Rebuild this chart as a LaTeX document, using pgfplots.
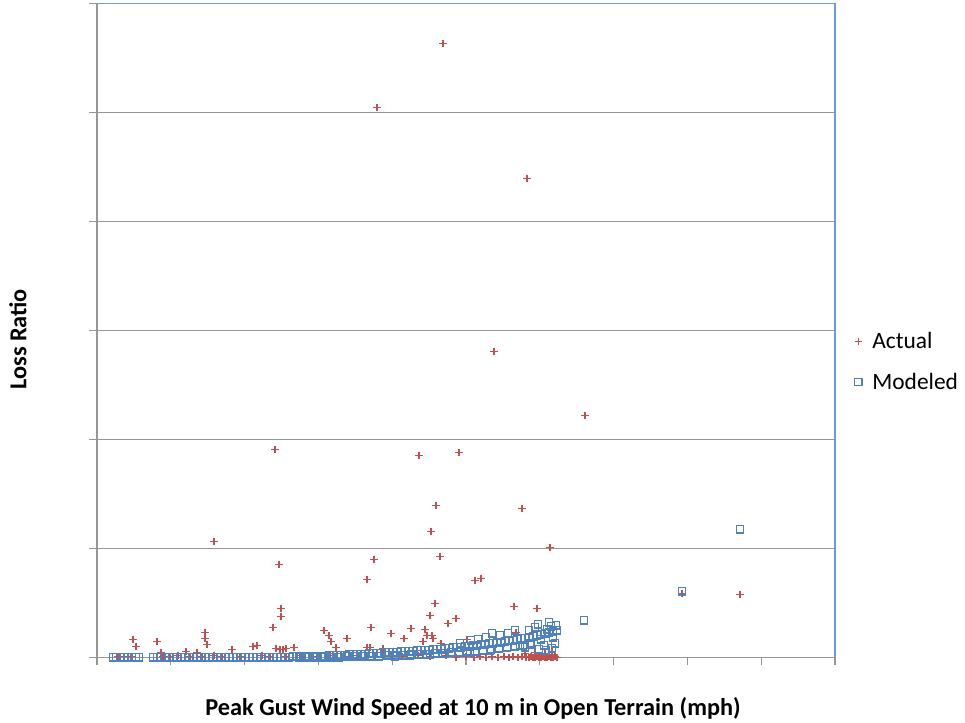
\documentclass[border=0pt]{standalone}
\usepackage{fontspec}
\setmainfont{Carlito}
\usepackage{pgfplots}
\pgfplotsset{compat=1.18}
\definecolor{actred}{RGB}{192,80,77}
\definecolor{modblue}{RGB}{79,129,189}
\definecolor{gridgray}{RGB}{150,150,150}
\definecolor{borderblue}{RGB}{110,155,210}
\begin{document}
\begin{tikzpicture}
\begin{axis}[
  at={(0,0)}, anchor=south west,
  scale only axis, width=738bp, height=654bp,
  xmin=97, xmax=835, ymin=0, ymax=654,
  xtick={97,170.8,244.6,318.4,392.2,466,539.8,613.6,687.4,761.2,835},
  ytick={0,109,218,327,436,545,654},
  xticklabels={}, yticklabels={},
  axis x line*=bottom, axis y line*=left,
  axis line style={draw=gridgray, line width=1.3bp, -},
  tick align=outside, major tick length=8bp,
  tick style={draw=gridgray, line width=1.3bp},
  ymajorgrids, grid style={draw=gridgray, line width=1.3bp},
  clip=false,
  xlabel={\bfseries Peak Gust Wind Speed at 10 m in Open Terrain (mph)},
  ylabel={\bfseries Loss Ratio},
  every axis x label/.style={at={(axis description cs:0.5,0)}, anchor=center, yshift=-51bp, xshift=7bp, font=\fontsize{24.4}{28}\selectfont},
  every axis y label/.style={at={(axis description cs:0,0.5)}, anchor=center, rotate=90, yshift=79bp, xshift=-9bp, font=\fontsize{24.4}{28}\selectfont},
  legend style={at={(axis description cs:1.026,0.452)}, anchor=west, draw=none, fill=none,
    font=\fontsize{23.5}{27}\selectfont, row sep=19bp, inner xsep=0pt},
  legend cell align=left,
  legend image code/.code={\draw[#1] plot coordinates {(0bp,0bp)}; \path[draw=none,fill=none] (-4bp,0bp) rectangle (12bp,0bp);},
]
\addplot[only marks, mark=+, mark size=3.7bp, draw=actred, line width=1.1bp] coordinates {
(443,614) (377,550) (527,479) (494,306) (585,242) (275,208) (419,202) (459,205)
(436,152) (522,149) (214,116) (431,126) (550,110) (440,101) (374,98) (279,93)
(367,78) (475,77) (481,79) (740,63) (682,64) (435,54) (514,51) (537,49)
(281,49) (281,41) (430,42) (456,39) (448,34) (516,25)
(133,18) (136,11) (157,16) (161,5) (205,25) (205,19) (207,13) (186,6) (197,5)
(232,8) (253,11) (257,12) (273,30) (276,9) (280,8) (283,8) (286,9) (294,10) (324,27) (329,22)
(331,16) (336,10) (347,19) (367,10) (371,30) (370,10) (383,9) (391,24) (404,19)
(411,29) (425,28) (427,22) (432,22) (433,19) (423,16) (441,14) (467,18)
(118,1) (124,1) (131,1) (163,1) (170,1) (178,2) (190,1) (202,1) (214,2) (222,1)
(240,1) (262,2) (270,1) (286,1) (300,2) (318,1) (330,2) (345,1) (358,2) (374,1)
(392,2) (402,1) (418,2) (430,1) (446,2) (456,0) (466,1) (474,0) (480,1) (486,0)
(492,1) (498,0) (504,1) (509,0) (513,1) (518,0) (522,1) (526,0) (529,0) (531,1) (533,0)
(535,0) (537,1) (539,0) (541,0) (543,1) (545,0) (547,0) (549,1) (551,0) (553,0) (555,1) (557,0)
(525,4) (535,5) (545,4) (552,6)
};
\addlegendentry{Actual}
\addplot[only marks, mark=square, mark size=3.6bp, draw=modblue, line width=1.4bp] coordinates {
(113,0) (116,0) (120,0) (124,0) (128,0) (132,0) (136,0) (139,0)
(153,0) (157,0) (161,0) (165,0) (169,0) (173,0) (177,0) (181,0) (185,0) (189,0)
(193,0) (197,0) (201,0) (205,0) (209,0) (213,0) (217,0) (221,0) (225,0) (229,0)
(233,0) (237,0) (241,0) (245,0) (249,0) (253,0) (257,0) (261,0) (265,0) (269,0)
(273,0) (277,0) (281,0) (285,0) (289,0) (293,1) (297,1) (301,1) (305,1) (309,1)
(313,1) (317,1) (321,1) (325,1) (329,2) (333,2) (337,2) (341,2) (345,2) (349,3)
(353,3) (357,3) (361,3) (365,3) (369,4) (373,4) (377,4) (381,4) (385,5) (389,5)
(393,5) (397,5) (401,6) (405,6) (409,6) (413,6) (417,7) (421,7) (425,7) (429,7)
(433,8) (437,8) (441,8) (445,9) (449,9) (453,10) (457,10) (461,10) (465,11) (469,11)
(473,12) (477,12) (481,13) (485,13) (489,14) (493,14) (497,15) (501,15) (505,16)
(509,17) (513,17) (517,18) (521,19) (525,19) (529,20) (533,21) (537,22) (541,23)
(545,24) (549,25) (553,26) (557,27)
(299,0) (307,0) (315,0) (323,0) (331,0) (339,0) (347,1) (355,1) (363,1) (371,1)
(379,1) (387,2) (395,2) (403,2) (411,3) (419,3) (427,3) (435,4) (443,4) (451,5)
(459,5) (467,6) (475,6) (483,7) (491,8) (499,9) (507,10) (515,11) (523,12) (531,13)
(486,20) (492,24) (500,22) (508,24) (515,27) (520,12) (525,10) (530,14) (535,30)
(538,33) (541,18) (544,12) (547,28) (549,35) (551,31) (553,20) (555,14) (556,32)
(539,8) (546,7) (552,9) (529,27) (471,17) (478,18) (460,14) (445,4) (430,3)
(410,2) (395,1) (470,5) (490,7)
(584,37) (682,66) (740,128)
};
\addlegendentry{Modeled}
\draw[borderblue, line width=1.3bp] (rel axis cs:0,1) -- (rel axis cs:1,1) -- (rel axis cs:1,0);
\end{axis}
\path (-97bp,-61bp) rectangle (868bp,8bp);
\end{tikzpicture}
\end{document}
